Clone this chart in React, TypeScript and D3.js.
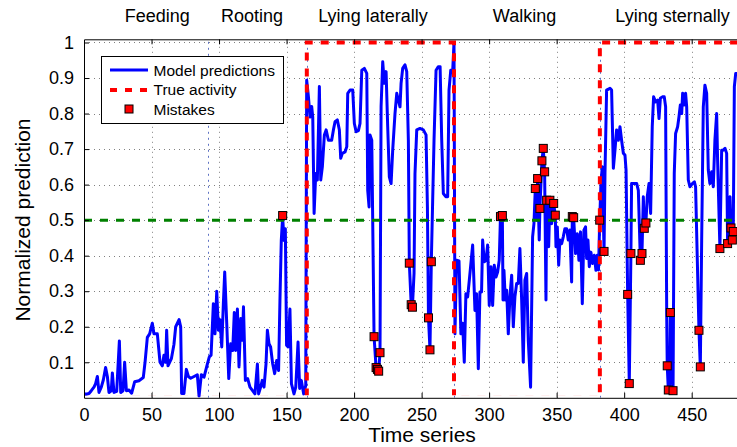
import * as d3 from "d3";
import { useEffect, useRef } from "react";

// model output, [time, normalized prediction]
const feedingPred: [number, number][] = [
  [0, 0.012], [1.2, 0.01], [3.7, 0.012], [5.4, 0.02], [7.4, 0.03], [8.6, 0.04], [9.9, 0.06],
  [11.1, 0.015], [12.8, 0.03], [14.3, 0.05], [16, 0.085], [17.3, 0.06], [18.5, 0.015], [20.2, 0.02],
  [21, 0.07], [22.2, 0.015], [24.2, 0.018], [26.2, 0.16], [27.2, 0.015], [28.9, 0.02], [30.1, 0.1],
  [31.4, 0.02], [33.3, 0.022], [35.3, 0.013], [37.5, 0.045], [40.7, 0.048], [43.9, 0.057], [45.2, 0.1],
  [46.9, 0.17], [48.6, 0.18], [50.6, 0.21], [51.8, 0.18], [53.1, 0.18], [54.3, 0.18], [56.3, 0.1],
  [58, 0.09], [59.2, 0.12], [60.5, 0.1], [61.2, 0.19], [62.2, 0.09], [64.7, 0.11], [66.6, 0.15],
  [67.9, 0.2], [70.4, 0.22], [71.6, 0.2], [72.3, 0.012], [74, 0.012], [75.8, 0.08], [77.3, 0.06],
  [79, 0.055], [81.5, 0.06], [83.9, 0.065], [85.2, 0.005], [86.9, 0.065], [88.9, 0.058], [90.8, 0.087],
];
const rootingPred: [number, number][] = [
  [92.8, 0.115], [94.1, 0.12], [95.8, 0.265], [97, 0.18], [98.3, 0.3], [99.5, 0.19], [100.7, 0.22],
  [102, 0.143], [103.2, 0.265], [104.2, 0.354], [105.7, 0.21], [107.2, 0.054], [108.6, 0.152],
  [110.1, 0.133], [111.3, 0.24], [112.3, 0.133], [113.6, 0.25], [114.8, 0.087], [116.1, 0.223],
  [117.3, 0.162], [118.1, 0.256], [119.5, 0.049], [121.2, 0.054], [122.9, 0.03], [124.7, 0.021],
  [126.6, 0.011], [128.4, 0.095], [129.3, 0.011], [130.8, 0.03], [132, 0.049], [133.3, 0.03],
  [134.8, 0.096], [135.8, 0.19], [137, 0.152], [138.2, 0.143], [139.7, 0.096], [141.2, 0.068],
  [142.7, 0.105], [144.1, 0.077], [145.1, 0.274], [146.1, 0.443], [147.1, 0.51], [148.1, 0.443],
  [149.1, 0.476], [150, 0.148], [151.2, 0.143], [152.5, 0.25], [153.6, 0.04], [155.5, 0.011],
  [156.8, 0.03], [158.5, 0.157], [159.7, 0.026], [160.9, 0.049], [162.7, 0.011], [164.2, 0.035],
];
const lyingLatPred: [number, number][] = [
  [164.9, 0.894], [166.2, 0.847], [167.4, 0.79], [168.6, 0.82], [169.4, 0.79], [170.4, 0.519],
  [171.6, 0.631], [172.8, 0.613], [174.3, 0.876], [175.3, 0.613], [176.5, 0.65], [178, 0.74],
  [179.3, 0.754], [181, 0.725], [183.4, 0.725], [184.7, 0.754], [185.9, 0.777], [187.6, 0.782],
  [189.1, 0.754], [190.1, 0.674], [191.3, 0.688], [193.3, 0.692], [194.6, 0.707], [195.3, 0.857],
  [197, 0.866], [199, 0.866], [200.2, 0.772], [201.5, 0.749], [203.2, 0.752], [204.4, 0.772],
  [205.7, 0.922], [207.6, 0.927], [209.4, 0.913], [210.1, 0.584], [211.1, 0.537], [211.8, 0.74],
  [213.1, 0.725], [214.8, 0.172], [216.3, 0.085], [217.3, 0.08], [218.2, 0.075], [219.2, 0.127],
  [220, 0.82], [221.2, 0.946], [222.4, 0.885], [223.7, 0.918], [224.9, 0.763], [226.1, 0.622],
  [227.4, 0.603], [228.6, 0.697], [230.3, 0.8], [231.6, 0.857], [232.8, 0.838], [234, 0.819],
  [234.8, 0.885], [236, 0.927], [237.7, 0.937], [239, 0.918], [240.2, 0.725], [240.9, 0.379],
  [242.3, 0.262], [243.2, 0.255], [244.4, 0.35], [245.1, 0.63], [246.4, 0.754], [248.8, 0.758],
  [251.3, 0.754], [253.3, 0.74], [254.3, 0.537], [255.1, 0.225], [256.2, 0.135], [257.2, 0.383],
  [258.2, 0.556], [259.2, 0.725], [260.7, 0.922], [262.4, 0.932], [263.7, 0.932], [264.9, 0.725],
  [266.1, 0.575], [267.9, 0.566], [269.3, 0.566], [270.3, 0.866], [271.6, 0.922], [273, 0.918], [274, 1.0],
];
const walkingPred: [number, number][] = [
  [274.7, 0.18], [275.9, 0.387], [277.7, 0.385], [279.1, 0.18], [280.4, 0.21], [281.6, 0.1],
  [282.8, 0.293], [284.1, 0.284], [285.3, 0.33], [287.8, 0.43], [289.5, 0.246], [290.7, 0.293],
  [292, 0.082], [293.2, 0.298], [294.4, 0.298], [295.2, 0.444], [296.4, 0.383], [297.7, 0.387],
  [298.9, 0.43], [300.1, 0.26], [301.4, 0.369], [302.6, 0.26], [303.8, 0.373], [305.1, 0.34],
  [306.3, 0.354], [307.5, 0.387], [308.4, 0.51], [309.8, 0.513], [310.3, 0.275], [311, 0.359],
  [312, 0.275], [313, 0.303], [314.2, 0.18], [315.4, 0.284], [316.7, 0.345], [317.9, 0.2],
  [319.1, 0.284], [320.4, 0.322], [321.6, 0.322], [322.8, 0.42], [324.1, 0.275], [325.3, 0.1],
  [326.5, 0.331], [327.8, 0.35], [329, 0.162], [330.7, 0.03], [332.2, 0.453], [333.2, 0.49],
  [334.2, 0.589], [335.2, 0.5], [335.9, 0.617], [337.1, 0.444], [337.6, 0.533], [339.1, 0.667],
  [340.1, 0.702], [341.1, 0.636], [342.1, 0.275], [342.6, 0.556], [344.1, 0.425], [345, 0.556],
  [346.3, 0.49], [347.8, 0.547], [349, 0.514], [349.5, 0.425], [350.5, 0.481], [351.5, 0.373],
  [352.4, 0.444], [353.7, 0.434], [354.9, 0.453], [356.1, 0.476], [357.4, 0.476], [358.6, 0.444],
  [359.8, 0.472], [361.1, 0.326], [361.6, 0.51], [362.6, 0.507], [364, 0.406], [365.3, 0.462],
  [366.5, 0.387], [367.7, 0.467], [369, 0.265], [370.2, 0.472], [371.4, 0.481], [372.2, 0.392],
  [373.2, 0.444], [374.2, 0.369], [375.4, 0.41], [376.6, 0.378], [377.9, 0.401], [379.1, 0.359],
  [380.1, 0.401], [381, 0.36],
];
const lyingSternPred: [number, number][] = [
  [381.9, 0.5], [382.8, 0.603], [383.8, 0.65], [385.1, 0.412], [385.8, 0.631], [387, 0.866],
  [389.5, 0.871], [390.7, 0.866], [392, 0.646], [393.2, 0.697], [394.4, 0.754], [395.7, 0.725],
  [396.9, 0.763], [398.1, 0.725], [399.4, 0.688], [400.6, 0.683], [401.4, 0.641], [402.6, 0.291],
  [403.8, 0.04], [405, 0.406], [405.5, 0.603], [407.3, 0.603], [409.3, 0.603], [410.5, 0.584],
  [412, 0.387], [413.2, 0.406], [414.2, 0.566], [414.9, 0.477], [416.1, 0.492], [417.1, 0.566],
  [418.4, 0.603], [419.6, 0.519], [420.8, 0.763], [421.8, 0.847], [423.3, 0.833], [424.8, 0.838],
  [425.8, 0.786], [426.8, 0.843], [428.3, 0.847], [429.7, 0.847], [430.7, 0.819], [431.5, 0.237],
  [431.9, 0.09], [432.7, 0.022], [433.7, 0.021], [434.2, 0.24], [435.2, 0.1], [436.2, 0.02],
  [437.1, 0.631], [438.1, 0.744], [439.6, 0.763], [440.6, 0.791], [441.6, 0.824], [442.6, 0.8],
  [443.3, 0.857], [444.3, 0.824], [445.5, 0.857], [446.3, 0.819], [447.5, 0.613], [448.7, 0.594],
  [450.5, 0.603], [452, 0.608], [452.9, 0.594], [454.4, 0.35], [455.4, 0.19], [456.4, 0.087],
  [457.4, 0.444], [458.6, 0.819], [459.8, 0.88], [461.1, 0.857], [462.3, 0.641], [463.5, 0.603],
  [464.8, 0.636], [466, 0.594], [467.2, 0.725], [468.5, 0.8], [469.2, 0.669], [470.9, 0.42],
  [472.2, 0.697], [473.4, 0.697], [474.7, 0.702], [475.9, 0.688], [476.6, 0.434], [478.4, 0.566],
  [479.1, 0.478], [480.1, 0.444], [480.8, 0.468], [481.6, 0.876], [482.6, 0.913], [483.5, 0.913],
  [486, 0.9],
];

// ground truth (1 = lying)
const trueTime = [0, 165, 165, 274, 274, 382, 382, 500];
const trueValue = [0, 0, 1, 1, 0, 0, 1, 1];

// misclassified samples
const mistakeTime = [
  147.1, 214.8, 216.3, 217.3, 218.2, 219.2, 240.9, 242.3, 243.2, 255.1, 256.2, 257.2,
  308.4, 309.8, 334.2, 335.9, 337.6, 339.1, 340.1, 341.1, 342.6, 345, 347.8, 349, 361.6, 362.6,
  381.9, 385.1, 402.6, 403.8, 405, 412, 413.2, 414.9, 416.1, 431.9, 432.7, 434.2, 436.2,
  455.4, 456.4, 470.9, 476.6, 479.1, 480.1, 480.8,
];
const mistakeValue = [
  0.513, 0.172, 0.085, 0.08, 0.075, 0.127, 0.379, 0.262, 0.255, 0.225, 0.135, 0.383,
  0.51, 0.513, 0.589, 0.617, 0.533, 0.667, 0.702, 0.636, 0.556, 0.556, 0.547, 0.514, 0.51, 0.507,
  0.5, 0.412, 0.291, 0.04, 0.406, 0.387, 0.406, 0.477, 0.492, 0.09, 0.022, 0.24, 0.02,
  0.19, 0.087, 0.42, 0.434, 0.478, 0.444, 0.468,
];

const activityNames = ["Feeding", "Rooting", "Lying laterally", "Walking", "Lying sternally"];
const activityLabelAt = [54.3, 124.4, 214, 326.2, 435.8];
const activityBounds = [91.5, 165, 274, 382];

const xTicks = [0, 50, 100, 150, 200, 250, 300, 350, 400, 450];
const yTicks = [0.1, 0.2, 0.3, 0.4, 0.5, 0.6, 0.7, 0.8, 0.9, 1];
const threshold = 0.5;

const font = "'Liberation Sans', Arial, Helvetica, sans-serif";

const Chart = () => {
  const svgRef = useRef<SVGSVGElement>(null);

  useEffect(() => {
    const w = 737;
    const h = 447;
    const left = 84;
    const top = 39.3;
    const bottom = 397.8;

    const svg = d3.select(svgRef.current).attr("width", w).attr("height", h);
    svg.selectAll("*").remove();

    const x = d3.scaleLinear().domain([0, 500]).range([left, left + 500 * 1.3504]);
    const y = d3.scaleLinear().domain([0, 1.009]).range([bottom, top]);
    const crisp = (v: number) => Math.round(v) + 0.5;

    const defs = svg.append("defs");
    defs.append("clipPath").attr("id", "plot-clip")
      .append("rect").attr("x", left).attr("y", top).attr("width", 800).attr("height", bottom - top);
    defs.append("clipPath").attr("id", "truth-clip")
      .append("rect").attr("x", left).attr("y", top).attr("width", 800).attr("height", bottom - top - 2.5);

    svg.append("rect").attr("x", 0).attr("y", 0).attr("width", w).attr("height", h).attr("fill", "#fff");

    // dotted grid
    const grid = svg.append("g").attr("stroke", "#808080").attr("stroke-width", 1).attr("stroke-dasharray", "1,4");
    grid.selectAll(".gx").data(xTicks.slice(1)).join("line")
      .attr("x1", (d) => crisp(x(d))).attr("x2", (d) => crisp(x(d))).attr("y1", bottom).attr("y2", top);
    grid.selectAll(".gy").data(yTicks).join("line")
      .attr("x1", left).attr("x2", w).attr("y1", (d) => crisp(y(d))).attr("y2", (d) => crisp(y(d)));

    const plot = svg.append("g").attr("clip-path", "url(#plot-clip)");

    // activity boundaries
    plot.selectAll(".bound").data(activityBounds).join("line")
      .attr("x1", (d) => crisp(x(d))).attr("x2", (d) => crisp(x(d))).attr("y1", bottom).attr("y2", top)
      .attr("stroke", "#5f73c4").attr("stroke-width", 1).attr("stroke-dasharray", "2,4");

    const line = d3.line<[number, number]>().x((d) => x(d[0])).y((d) => y(d[1]));
    const pred = [...feedingPred, ...rootingPred, ...lyingLatPred, ...walkingPred, ...lyingSternPred];
    plot.append("path").datum(pred).attr("d", line)
      .attr("fill", "none").attr("stroke", "#0000ff").attr("stroke-width", 3)
      .attr("stroke-linejoin", "round");

    plot.append("line")
      .attr("x1", left).attr("x2", w).attr("y1", y(threshold)).attr("y2", y(threshold))
      .attr("stroke", "#008000").attr("stroke-width", 3).attr("stroke-dasharray", "8,8");

    const truth = trueTime.map((t, i) => [t, trueValue[i]] as [number, number]);
    svg.append("g").attr("clip-path", "url(#truth-clip)")
      .append("path").datum(truth).attr("d", line)
      .attr("fill", "none").attr("stroke", "#ff0000").attr("stroke-width", 4).attr("stroke-dasharray", "8,8");

    // mistakes
    const s = 8;
    svg.selectAll(".mistake").data(mistakeTime).join("rect")
      .attr("x", (d) => x(d) - s / 2).attr("y", (d, i) => y(mistakeValue[i]) - s / 2)
      .attr("width", s).attr("height", s)
      .attr("fill", "#ff0000").attr("stroke", "#000").attr("stroke-width", 1);

    // axes
    const xAxis = d3.axisBottom(x).tickValues(xTicks).tickSizeInner(-5).tickSizeOuter(0).tickPadding(10)
      .tickFormat((d) => String(d));
    const yAxis = d3.axisLeft(y).tickValues(yTicks).tickSizeInner(-5).tickSizeOuter(0).tickPadding(10)
      .tickFormat((d) => String(d));
    const topAxis = d3.axisTop(x).tickValues(xTicks.slice(1)).tickSizeInner(-5).tickSizeOuter(0).tickFormat(() => "");

    const gx = svg.append("g").attr("transform", `translate(0, ${bottom})`).call(xAxis);
    const gy = svg.append("g").attr("transform", `translate(${left}, 0)`).call(yAxis);
    svg.append("g").attr("transform", `translate(0, ${top})`).call(topAxis);
    [gx, gy].forEach((g) => g.attr("font-family", font).attr("font-size", 18)
      .selectAll("text").attr("fill", "#000"));

    // activity names above the plot
    svg.selectAll(".act").data(activityNames).join("text")
      .attr("x", (d, i) => x(activityLabelAt[i])).attr("y", 22)
      .attr("text-anchor", "middle").attr("font-family", font).attr("font-size", 18)
      .text((d) => d);

    svg.append("text").attr("x", 422).attr("y", 442).attr("text-anchor", "middle")
      .attr("font-family", font).attr("font-size", 21).text("Time series");
    svg.append("text").attr("transform", `translate(30, 220) rotate(-90)`).attr("text-anchor", "middle")
      .attr("font-family", font).attr("font-size", 21).text("Normalized prediction");

    // legend
    const lg = svg.append("g").attr("font-family", font).attr("font-size", 15.5);
    lg.append("rect").attr("x", 101.5).attr("y", 56.5).attr("width", 182).attr("height", 67)
      .attr("fill", "#fff").attr("stroke", "#000").attr("stroke-width", 1);
    lg.append("line").attr("x1", 110).attr("x2", 148).attr("y1", 70).attr("y2", 70)
      .attr("stroke", "#0000ff").attr("stroke-width", 3);
    lg.append("line").attr("x1", 110).attr("x2", 148).attr("y1", 90).attr("y2", 90)
      .attr("stroke", "#ff0000").attr("stroke-width", 4).attr("stroke-dasharray", "7,8");
    lg.append("rect").attr("x", 129 - s / 2).attr("y", 109 - s / 2).attr("width", s).attr("height", s)
      .attr("fill", "#ff0000").attr("stroke", "#000");
    ["Model predictions", "True activity", "Mistakes"].forEach((t, i) => {
      lg.append("text").attr("x", 153.5).attr("y", 75.5 + i * 19.5).text(t);
    });
  }, []);

  return <svg ref={svgRef} style={{ position: "absolute", left: 0, top: 0 }}></svg>;
};

export default function App() {
  return <Chart />;
}
